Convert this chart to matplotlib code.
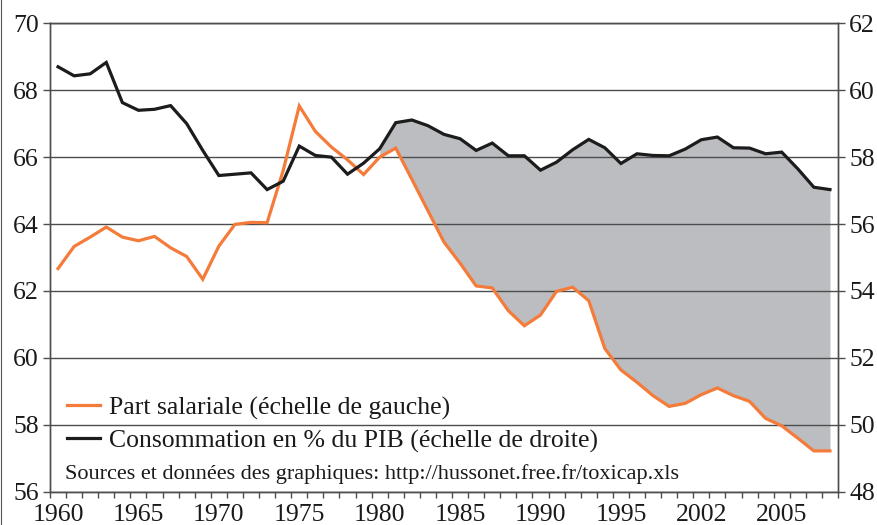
import numpy as np
import matplotlib
matplotlib.use("Agg")
import matplotlib.pyplot as plt
from matplotlib.lines import Line2D

# years 1960 -> 2008
years = list(range(1960, 2009))

# Part salariale (left scale)
part_salariale = [62.67, 63.33, 63.61, 63.91, 63.61, 63.50, 63.63, 63.29, 63.03, 62.35,
                  63.34, 63.99, 64.05, 64.04, 65.60, 67.53, 66.77, 66.30, 65.92, 65.48,
                  66.00, 66.27, 65.34, 64.40, 63.46, 62.83, 62.15, 62.09, 61.41, 60.96,
                  61.28, 61.99, 62.11, 61.71, 60.28, 59.64, 59.27, 58.87, 58.55, 58.64,
                  58.90, 59.10, 58.87, 58.70, 58.19, 57.97, 57.60, 57.22, 57.22]

# Consommation en % du PIB (right scale)
consommation = [60.70, 60.43, 60.49, 60.83, 59.63, 59.40, 59.43, 59.54, 59.00, 58.20,
                57.45, 57.49, 57.53, 57.03, 57.28, 58.33, 58.05, 58.00, 57.49, 57.82,
                58.25, 59.03, 59.11, 58.94, 58.68, 58.55, 58.20, 58.42, 58.04, 58.04,
                57.61, 57.85, 58.22, 58.53, 58.28, 57.81, 58.10, 58.05, 58.04, 58.24,
                58.52, 58.60, 58.28, 58.27, 58.10, 58.15, 57.65, 57.10, 57.03]

xtick_pos = [1960, 1965, 1970, 1975, 1980, 1985, 1990, 1995, 2000, 2005]
xtick_labels = ["1960", "1965", "1970", "1975", "1980", "1985", "1990", "1995", "2002", "2005"]

left_ticks = [56, 58, 60, 62, 64, 66, 68, 70]
right_ticks = [48, 50, 52, 54, 56, 58, 60, 62]
offset = 8  # right scale = left scale - 8

ORANGE = "#f47b3a"
BLACK = "#1c1c1c"
FILL = "#bcbdc1"
GRID = "#4d4d4d"
TXT = "#1a1a1a"

plt.rcParams["font.family"] = ["Liberation Serif", "DejaVu Serif"]

fig = plt.figure(figsize=(8.78, 5.25), dpi=100)
W, H = 878, 525
ax = fig.add_axes([50 / W, (H - 491.7) / H, (838 - 50) / W, (491.7 - 23.3) / H])
ax2 = ax.twinx()

yrs = np.array(years)
ps = np.array(part_salariale)
co = np.array(consommation)

# shaded gap from 1980 on
m = yrs >= 1980
ax.fill_between(yrs[m], ps[m], co[m] + offset, where=(co[m] + offset >= ps[m]),
                interpolate=True, color=FILL, lw=0, zorder=1)

ax.plot(yrs, ps, color=ORANGE, lw=2.3, zorder=3, solid_joinstyle="miter")
ax2.plot(yrs, co, color=BLACK, lw=2.3, zorder=3, solid_joinstyle="miter")

ax.set_xlim(1959.5, 2008.5)
ax.set_ylim(56, 70)
ax2.set_ylim(48, 62)

ax.set_yticks(left_ticks)
ax2.set_yticks(right_ticks)
ax.set_xticks(xtick_pos)
ax.set_xticklabels(xtick_labels)
ax.set_xticks(np.arange(1959.5, 2008.6, 1), minor=True)

ax.grid(axis="y", color=GRID, lw=1.0)
ax.set_axisbelow("line")

for a in (ax, ax2):
    for s in a.spines.values():
        s.set_color(GRID)
        s.set_linewidth(1.0)

ax.tick_params(axis="x", which="major", length=0, labelsize=18.5, pad=9, colors=TXT)
ax.tick_params(axis="x", which="minor", length=4, width=1, color=GRID, direction="out")
ax.tick_params(axis="y", length=5, width=1, color=GRID, labelsize=18.5, pad=3, labelcolor=TXT)
ax2.tick_params(axis="y", length=5, width=1, color=GRID, labelsize=18.5, pad=3, labelcolor=TXT)

handles = [Line2D([], [], color=ORANGE, lw=2.3), Line2D([], [], color=BLACK, lw=2.3)]
labels = ["Part salariale (échelle de gauche)", "Consommation en % du PIB (échelle de droite)"]
leg = ax.legend(handles, labels, loc="lower left", bbox_to_anchor=(17 / 788, 0.083),
                frameon=False, fontsize=18.5, handlelength=1.3, handletextpad=0.32,
                labelspacing=0.38, borderaxespad=0, borderpad=0, labelcolor=TXT)

ax.text(65 / W, (H - 474) / H, "Sources et données des graphiques: http://hussonet.free.fr/toxicap.xls",
        transform=fig.transFigure, fontsize=16, color=TXT, va="center", ha="left")

# thin border on the left edge of the picture
fig.add_artist(Line2D([1.5 / W, 1.5 / W], [0, 1], transform=fig.transFigure, color="#555555", lw=0.8))

fig.savefig("out.png", dpi=100)
